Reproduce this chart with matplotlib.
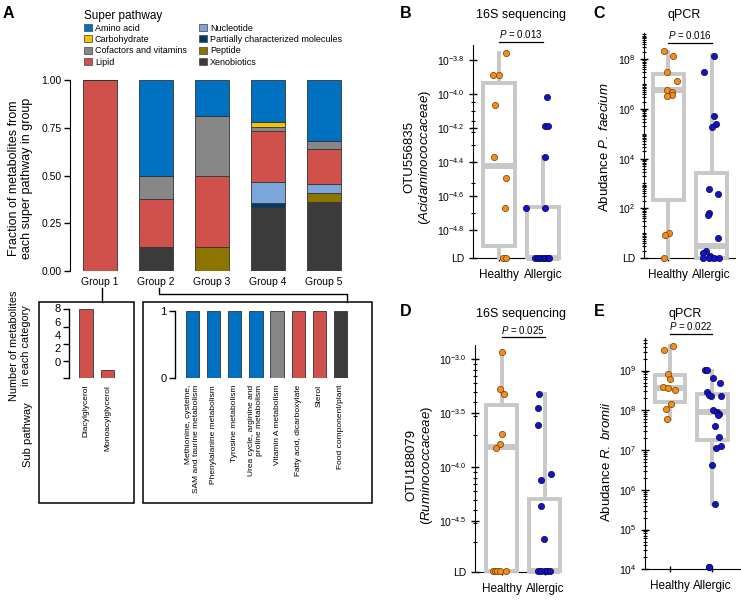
import numpy as np
import matplotlib.pyplot as plt
from matplotlib.patches import Patch, Rectangle
from matplotlib.lines import Line2D
from matplotlib.ticker import FixedLocator, LogLocator, NullFormatter

plt.rcParams['font.family'] = ['Liberation Sans', 'DejaVu Sans']
plt.rcParams['mathtext.fontset'] = 'custom'
plt.rcParams['mathtext.rm'] = 'Liberation Sans'
plt.rcParams['mathtext.it'] = 'Liberation Sans:italic'
plt.rcParams['mathtext.bf'] = 'Liberation Sans:bold'
plt.rcParams['mathtext.default'] = 'regular'

W, H = 741, 601

# ---------------- panel A data ----------------
pathways = ['Amino acid', 'Carbohydrate', 'Cofactors and vitamins', 'Lipid',
            'Nucleotide', 'Partially characterized molecules', 'Peptide', 'Xenobiotics']
pathway_colors = ['#0070c0', '#f2c300', '#878787', '#d0504b',
                  '#7ca5da', '#003a6b', '#8c7400', '#3b3b3b']
stack_order = ['Xenobiotics', 'Peptide', 'Partially characterized molecules', 'Nucleotide',
               'Lipid', 'Cofactors and vitamins', 'Carbohydrate', 'Amino acid']
groups = ['Group 1', 'Group 2', 'Group 3', 'Group 4', 'Group 5']

# number of metabolites per super pathway in each group
amino_acid = [0, 4, 3, 10, 7]
carbohydrate = [0, 0, 0, 1, 0]
cofactors = [0, 1, 5, 1, 1]
lipid = [9, 2, 6, 12, 4]
nucleotide = [0, 0, 0, 5, 1]
partial = [0, 0, 0, 1, 0]
peptide = [0, 0, 2, 0, 1]
xenobiotics = [0, 1, 0, 15, 8]

g1_sub = ['Diacylglycerol', 'Monoacylglycerol']
g1_counts = [8, 1]
g1_path = ['Lipid', 'Lipid']
g1_tick_labels = ['8', '6', '4', '2', '0']

g2_sub = ['Methionine, cysteine,\nSAM and taurine metabolism', 'Phenylalanine metabolism',
          'Tyrosine metabolism', 'Urea cycle, arginine and\nproline metabolism',
          'Vitamin A metabolism', 'Fatty acid, dicarboxylate', 'Sterol', 'Food component/plant']
g2_counts = [1, 1, 1, 1, 1, 1, 1, 1]
g2_path = ['Amino acid', 'Amino acid', 'Amino acid', 'Amino acid',
           'Cofactors and vitamins', 'Lipid', 'Lipid', 'Xenobiotics']

# ---------------- panels B-E data (log10 values) ----------------
LD16 = -4.965   # detection limit, 16S
LDQ = 0.0       # detection limit, qPCR

b_healthy = [-3.755, -3.886, -3.886, -4.063, -4.367, -4.494, -4.67, LD16, LD16]
b_healthy_jit = [0.16, -0.14, 0.0, -0.09, -0.11, 0.15, 0.14, 0.08, 0.16]
b_allergic = [-4.014, -4.19, -4.19, -4.367, -4.67, -4.67, LD16, LD16, LD16, LD16, LD16, LD16, LD16]
b_allergic_jit = [0.09, 0.05, 0.11, 0.05, -0.40, 0.05, -0.19, -0.13, -0.07, -0.01, 0.05, 0.10, 0.14]
b_stats = [(LD16, -4.896, -4.425, -3.935, -3.755), (LD16, LD16, LD16, -4.665, -4.367)]

c_healthy = [8.34, 8.13, 7.49, 7.12, 6.76, 6.68, 6.58, 6.53, 1.0, 0.91, LDQ]
c_healthy_jit = [-0.11, 0.11, -0.02, 0.20, -0.04, 0.08, 0.09, -0.02, 0.02, -0.07, -0.10]
c_allergic = [8.15, 7.5, 5.71, 5.38, 5.26, 2.77, 2.57, 1.82, 1.72, 0.8, 0.28, 0.19, 0.08,
              LDQ, LDQ, LDQ, LDQ]
c_allergic_jit = [0.06, -0.17, 0.06, 0.11, 0.02, -0.05, 0.15, -0.06, -0.09, 0.14, -0.13, -0.19, -0.03,
                  -0.2, -0.06, 0.06, 0.17]
c_stats = [(LDQ, 2.35, 6.76, 7.41, 8.31), (LDQ, LDQ, 0.49, 3.42, 8.17)]

d_healthy = [-2.93, -3.28, -3.32, -3.69, -3.79, -3.82, LD16, LD16, LD16, LD16, LD16]
d_healthy_jit = [0.0, -0.05, 0.05, 0.01, -0.05, -0.13, -0.2, -0.15, -0.10, -0.05, 0.10]
d_allergic = [-3.32, -3.45, -3.61, -4.06, -4.12, -4.36, -4.67, LD16, LD16, LD16, LD16, LD16]
d_allergic_jit = [-0.13, -0.16, -0.16, 0.15, -0.08, -0.08, -0.01, -0.16, -0.08, 0.0, 0.06, 0.12]
d_stats = [(LD16, LD16, -3.81, -3.42, -2.93), (LD16, LD16, LD16, -4.30, -3.32)]

e_healthy = [9.62, 9.52, 8.92, 8.78, 8.58, 8.55, 8.50, 8.15, 8.03, 7.78]
e_healthy_jit = [0.06, -0.15, -0.05, 0.01, -0.17, -0.04, 0.12, 0.02, -0.10, -0.07]
e_allergic = [9.02, 9.02, 8.81, 8.69, 8.45, 8.39, 8.35, 8.37, 8.0, 7.97, 7.92, 7.89,
              7.6, 7.33, 7.11, 7.05, 6.63, 5.65, 4.07, 4.07]
e_allergic_jit = [-0.17, -0.12, 0.02, 0.19, -0.13, -0.08, -0.04, 0.20, 0.02, 0.10, 0.15, 0.13,
                  0.06, 0.15, 0.20, 0.08, -0.02, 0.05, -0.09, -0.07]
e_stats = [(7.78, 8.22, 8.56, 8.89, 9.62), (5.65, 7.26, 7.97, 8.40, 9.0)]

conditions = ['Healthy', 'Allergic']
orange = '#f28e1c'
blue = '#1414c4'
box_gray = '#c8c8c8'
color_of = dict(zip(pathways, pathway_colors))


def px(x0, y0, x1, y1):
    return [x0 / W, 1 - y1 / H, (x1 - x0) / W, (y1 - y0) / H]


def ftext(x, y, s, **kw):
    fig.text(x / W, 1 - y / H, s, **kw)


fig = plt.figure(figsize=(W / 100, H / 100), dpi=100)

# ---------------- A: stacked bars ----------------
axA = fig.add_axes(px(70, 80, 350, 271))
counts = dict(zip(pathways, [amino_acid, carbohydrate, cofactors, lipid,
                             nucleotide, partial, peptide, xenobiotics]))
totals = np.sum([counts[p] for p in pathways], axis=0)
xpos = np.arange(len(groups))
bottom = np.zeros(len(groups))
for name in stack_order:
    frac = np.array(counts[name]) / totals
    axA.bar(xpos, frac, bottom=bottom, width=0.61, color=color_of[name],
            edgecolor='#333333', linewidth=0.6)
    bottom += frac
axA.set_xlim(-0.536, 4.464)
axA.set_ylim(0, 1)
for s in ['top', 'right', 'bottom']:
    axA.spines[s].set_visible(False)
axA.set_yticks([0, 0.25, 0.5, 0.75, 1.0])
axA.set_yticklabels(['0.00', '0.25', '0.50', '0.75', '1.00'])
axA.set_xticks(xpos)
axA.set_xticklabels(groups)
axA.tick_params(axis='x', length=0, pad=4, labelsize=7.5)
axA.tick_params(axis='y', length=4, width=1, labelsize=7.5, pad=2)
ftext(20.5, 178, 'Fraction of metabolites from\neach super pathway in group',
      rotation=90, ha='center', va='center', fontsize=9)

handles = [Patch(facecolor=color_of[p], edgecolor='#555555', linewidth=0.6, label=p) for p in pathways]
fig.legend(handles=handles, loc='upper left', bbox_to_anchor=(83.5 / W, 1 - 9.5 / H), ncol=2,
           frameon=False, title='Super pathway', title_fontsize=8.5, fontsize=6.5,
           alignment='left', handlelength=0.9, handleheight=0.8, handletextpad=0.35,
           labelspacing=0.25, columnspacing=1.35, borderpad=0, borderaxespad=0)

# ---------------- A: sub pathway panels ----------------
axL = fig.add_axes(px(69, 309.3, 130, 378.3))
axL.bar(np.arange(len(g1_sub)), g1_counts, width=0.63,
        color=[color_of[p] for p in g1_path], edgecolor='#333333', linewidth=0.6)
axL.set_xlim(-0.79, 2.05)
axL.set_ylim(0, 8)
axL.set_yticks([0, 2, 4, 6, 8])
axL.set_yticklabels([])
for v, lab in zip(np.linspace(8, 1.8, len(g1_tick_labels)), g1_tick_labels):
    axL.annotate(lab, xy=(0, v), xycoords=axL.get_yaxis_transform(), xytext=(-6, 0),
                 textcoords='offset points', ha='right', va='center', fontsize=8)
axL.set_xticks(np.arange(len(g1_sub)))
axL.set_xticklabels(g1_sub, rotation=90, fontsize=6)

axR = fig.add_axes(px(175, 310.7, 365, 378.3))
axR.bar(np.arange(len(g2_sub)), g2_counts, width=0.63,
        color=[color_of[p] for p in g2_path], edgecolor='#333333', linewidth=0.6)
axR.set_xlim(-0.816, 8.146)
axR.set_ylim(0, 1)
axR.set_yticks([0, 1])
axR.set_xticks(np.arange(len(g2_sub)))
axR.set_xticklabels(g2_sub, rotation=90, fontsize=6)
for t in axR.get_xticklabels():
    t.set_multialignment('right')

for a in (axL, axR):
    for s in ['top', 'right', 'bottom']:
        a.spines[s].set_visible(False)
    a.spines['left'].set_linewidth(1.0)
    a.tick_params(axis='x', length=0, pad=4.8)
    a.tick_params(axis='y', length=4, width=1, labelsize=8, pad=2)

ftext(20, 346, 'Number of metabolites\nin each category', rotation=90,
      ha='center', va='center', fontsize=7.8)
ftext(28, 435, 'Sub pathway', rotation=90, ha='center', va='center', fontsize=8)

for x0, x1 in [(39.3, 134), (143.3, 371.7)]:
    fig.add_artist(Rectangle((x0 / W, 1 - 503.3 / H), (x1 - x0) / W, (503.3 - 301.7) / H,
                             transform=fig.transFigure, fill=False, lw=1.1, ec='black'))
for xs, ys in [([101.7, 101.7], [288, 301.7]),
               ([159.3, 159.3, 346.7, 346.7], [288, 294, 294, 301.7])]:
    fig.add_artist(Line2D(np.array(xs) / W, 1 - np.array(ys) / H,
                          transform=fig.transFigure, lw=1.0, color='black'))


# ---------------- B-E: box plots ----------------
def box_panel(rect, xlim, ylo, yhi, hv, hj, av, aj, stats, ticks_exp, tick_labels,
              p_y, p_text, ld_label):
    ax = fig.add_axes(px(*rect))
    ax.set_yscale('log')
    ax.set_xlim(xlim)
    ax.set_ylim(10 ** ylo, 10 ** yhi)
    bstats = [dict(whislo=10 ** s[0], q1=10 ** s[1], med=10 ** s[2], q3=10 ** s[3],
                   whishi=10 ** s[4], fliers=[]) for s in stats]
    res = ax.bxp(bstats, positions=[0, 1], widths=0.72, showfliers=False, showcaps=False,
                 patch_artist=True,
                 boxprops=dict(facecolor='white', edgecolor=box_gray, linewidth=2.8),
                 whiskerprops=dict(color=box_gray, linewidth=2.8),
                 medianprops=dict(color=box_gray, linewidth=4.3, solid_capstyle='butt'))
    for key in ('boxes', 'whiskers', 'medians'):
        for art in res[key]:
            art.set_clip_on(False)
            art.set_zorder(3)
    ax.scatter(np.array(hj), 10 ** np.array(hv), s=20, c=orange, edgecolors='#6e3a00',
               linewidths=0.5, zorder=4, clip_on=False)
    ax.scatter(1 + np.array(aj), 10 ** np.array(av), s=20, c=blue, edgecolors='#000050',
               linewidths=0.5, zorder=4, clip_on=False)
    for s in ['top', 'right']:
        ax.spines[s].set_visible(False)
    ax.set_xticks([0, 1])
    ax.set_xticklabels(conditions)
    ax.tick_params(axis='x', direction='inout', length=4, width=1, labelsize=8.5, pad=6)
    locs = [10 ** e for e in ticks_exp]
    labels = list(tick_labels)
    if ld_label:
        locs.append(10 ** ylo)
        labels.append('LD')
    ax.yaxis.set_major_locator(FixedLocator(locs))
    ax.set_yticklabels(labels)
    ax.yaxis.set_minor_locator(LogLocator(base=10, subs=np.arange(1, 10), numticks=100))
    ax.yaxis.set_minor_formatter(NullFormatter())
    ax.tick_params(axis='y', which='major', direction='inout', length=6, width=1,
                   labelsize=7.5, pad=3)
    ax.tick_params(axis='y', which='minor', direction='inout', length=3.5, width=0.8)
    trans = ax.get_xaxis_transform()
    ax.plot([0, 1], [p_y, p_y], transform=trans, color='black', lw=0.9, clip_on=False)
    ax.annotate(p_text, xy=(0.5, p_y), xycoords=trans, xytext=(0, 1.2),
                textcoords='offset points', ha='center', va='bottom', fontsize=7)
    return ax


box_panel((473, 45, 557, 258), (-0.587, 1.31), LD16, -3.71,
          b_healthy, b_healthy_jit, b_allergic, b_allergic_jit, b_stats,
          [-3.8, -4.0, -4.2, -4.4, -4.6, -4.8],
          [r'$10^{-3.8}$', r'$10^{-4.0}$', r'$10^{-4.2}$', r'$10^{-4.4}$', r'$10^{-4.6}$', r'$10^{-4.8}$'],
          1.014, r'$\it{P}$ = 0.013', True)
box_panel((644, 33, 735, 258), (-0.56, 1.54), LDQ, 9.06,
          c_healthy, c_healthy_jit, c_allergic, c_allergic_jit, c_stats,
          [8, 6, 4, 2], [r'$10^{8}$', r'$10^{6}$', r'$10^{4}$', r'$10^{2}$'],
          0.957, r'$\it{P}$ = 0.016', True)
box_panel((475, 345, 557, 571.7), (-0.617, 1.28), LD16 - 0.005, -2.868,
          d_healthy, d_healthy_jit, d_allergic, d_allergic_jit, d_stats,
          [-3.0, -3.5, -4.0, -4.5],
          [r'$10^{-3.0}$', r'$10^{-3.5}$', r'$10^{-4.0}$', r'$10^{-4.5}$'],
          1.034, r'$\it{P}$ = 0.025', True)
box_panel((645, 338, 740, 569.3), (-0.59, 1.65), 4.0, 9.82,
          e_healthy, e_healthy_jit, e_allergic, e_allergic_jit, e_stats,
          [9, 8, 7, 6, 5, 4],
          [r'$10^{9}$', r'$10^{8}$', r'$10^{7}$', r'$10^{6}$', r'$10^{5}$', r'$10^{4}$'],
          1.017, r'$\it{P}$ = 0.022', False)

ftext(418, 157, 'OTU556835\n($\\it{Acidaminococcaceae}$)', rotation=90,
      ha='center', va='center', fontsize=9.5)
ftext(605, 147, r'Abudance $\it{P.\ faecium}$', rotation=90, ha='center', va='center', fontsize=9.5)
ftext(420, 465, 'OTU188079\n($\\it{Ruminococcaceae}$)', rotation=90,
      ha='center', va='center', fontsize=9.5)
ftext(607, 462, r'Abudance $\it{R.\ bromii}$', rotation=90, ha='center', va='center', fontsize=9.5)

ftext(521, 15, '16S sequencing', ha='center', va='center', fontsize=9)
ftext(684, 15, 'qPCR', ha='center', va='center', fontsize=9)
ftext(521, 314, '16S sequencing', ha='center', va='center', fontsize=9)
ftext(685, 314, 'qPCR', ha='center', va='center', fontsize=9)

for lab, x, y in [('A', 8.5, 14), ('B', 405.5, 13.5), ('C', 599, 13.5), ('D', 405.5, 312), ('E', 599.5, 312)]:
    ftext(x, y, lab, ha='center', va='center', fontsize=11.5, fontweight='bold')

fig.savefig('out.png', dpi=100)
